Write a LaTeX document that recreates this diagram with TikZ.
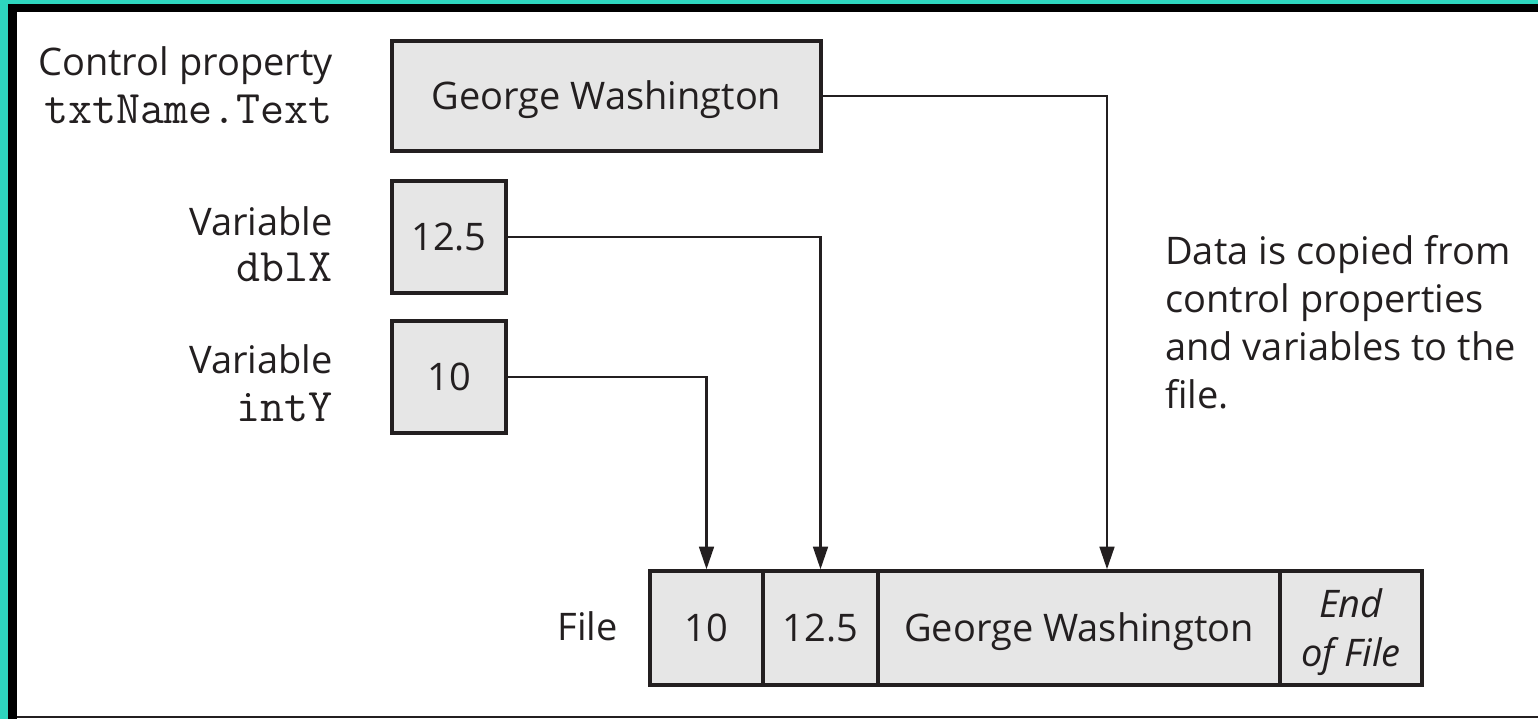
\documentclass[tikz,border=0pt]{standalone}
\usepackage{fontspec}
\setmainfont{Open Sans}
\usetikzlibrary{arrows.meta}
\definecolor{frameteal}{RGB}{46,214,190}
\definecolor{ink}{RGB}{35,31,32}
\definecolor{cellgray}{RGB}{230,230,230}
\tikzset{
  txt/.style={text=ink, font=\fontsize{28.5}{36}\selectfont, inner sep=0pt},
  mono/.style={text=ink, font=\fontsize{35}{36}\selectfont\ttfamily, inner sep=0pt},
  box/.style={draw=ink, fill=cellgray, line width=2.5pt, text=ink,
    font=\fontsize{28.5}{36}\selectfont, text height=20.3pt, text depth=0pt, inner sep=0pt},
  conn/.style={draw=ink, line width=2pt, -{Triangle[length=17pt,width=11pt]}}
}
\begin{document}
\begin{tikzpicture}[x=0.75pt,y=-0.75pt]
\useasboundingbox (0,0) rectangle (1538,719);
% frame
\fill[frameteal] (0,0) rectangle (1538,4);
\fill[frameteal] (0,0) rectangle (8,719);
\fill[black] (8,4) rectangle (1538,12);
\fill[black] (8,4) rectangle (17,719);
\fill[ink] (17,716) rectangle (1538,718);

% source boxes
\node[box, minimum width={429*0.75pt}, minimum height={110*0.75pt}] (gw) at (606.5,96) {George Washington};
\node[box, minimum width={114*0.75pt}, minimum height={112*0.75pt}] (b125) at (449,237) {12.5};
\node[box, minimum width={114*0.75pt}, minimum height={112*0.75pt}] (b10) at (449,377) {10};

% labels
\node[txt, anchor=base east] (l1) at (333,75) {Control property};
\node[mono, anchor=base east] (l2) at (333,123) {txtName.Text};
\node[txt, anchor=base east] (l3) at (333,235) {Variable};
\node[mono, anchor=base east] (l4) at (333,281) {dblX};
\node[txt, anchor=base east] (l5) at (333,373) {Variable};
\node[mono, anchor=base east] (l6) at (333,421) {intY};

% file cells
\node[box, minimum width={113*0.75pt}, minimum height={114*0.75pt}] (c1) at (706.5,628) {10};
\node[box, minimum width={115*0.75pt}, minimum height={114*0.75pt}] (c2) at (820.5,628) {12.5};
\node[box, minimum width={402*0.75pt}, minimum height={114*0.75pt}] (c3) at (1079,628) {George Washington};
\node[box, minimum width={142*0.75pt}, minimum height={114*0.75pt}, font=\fontsize{28.5}{36.75}\selectfont\itshape, align=center, text height=57.05pt] (c4) at (1351,628) {End\\of File};
\node[txt, anchor=base east] (fl) at (618,640) {File};

% note
\node[txt, anchor=west, align=left] (note) at (1165,322) {Data is copied from\\control properties\\and variables to the\\file.};

% connectors
\draw[conn] (gw.east) -| ([xshift=21pt]c3.north);
\draw[conn] (b125.east) -| (c2.north);
\draw[conn] (b10.east) -| (c1.north);
\end{tikzpicture}
\end{document}
